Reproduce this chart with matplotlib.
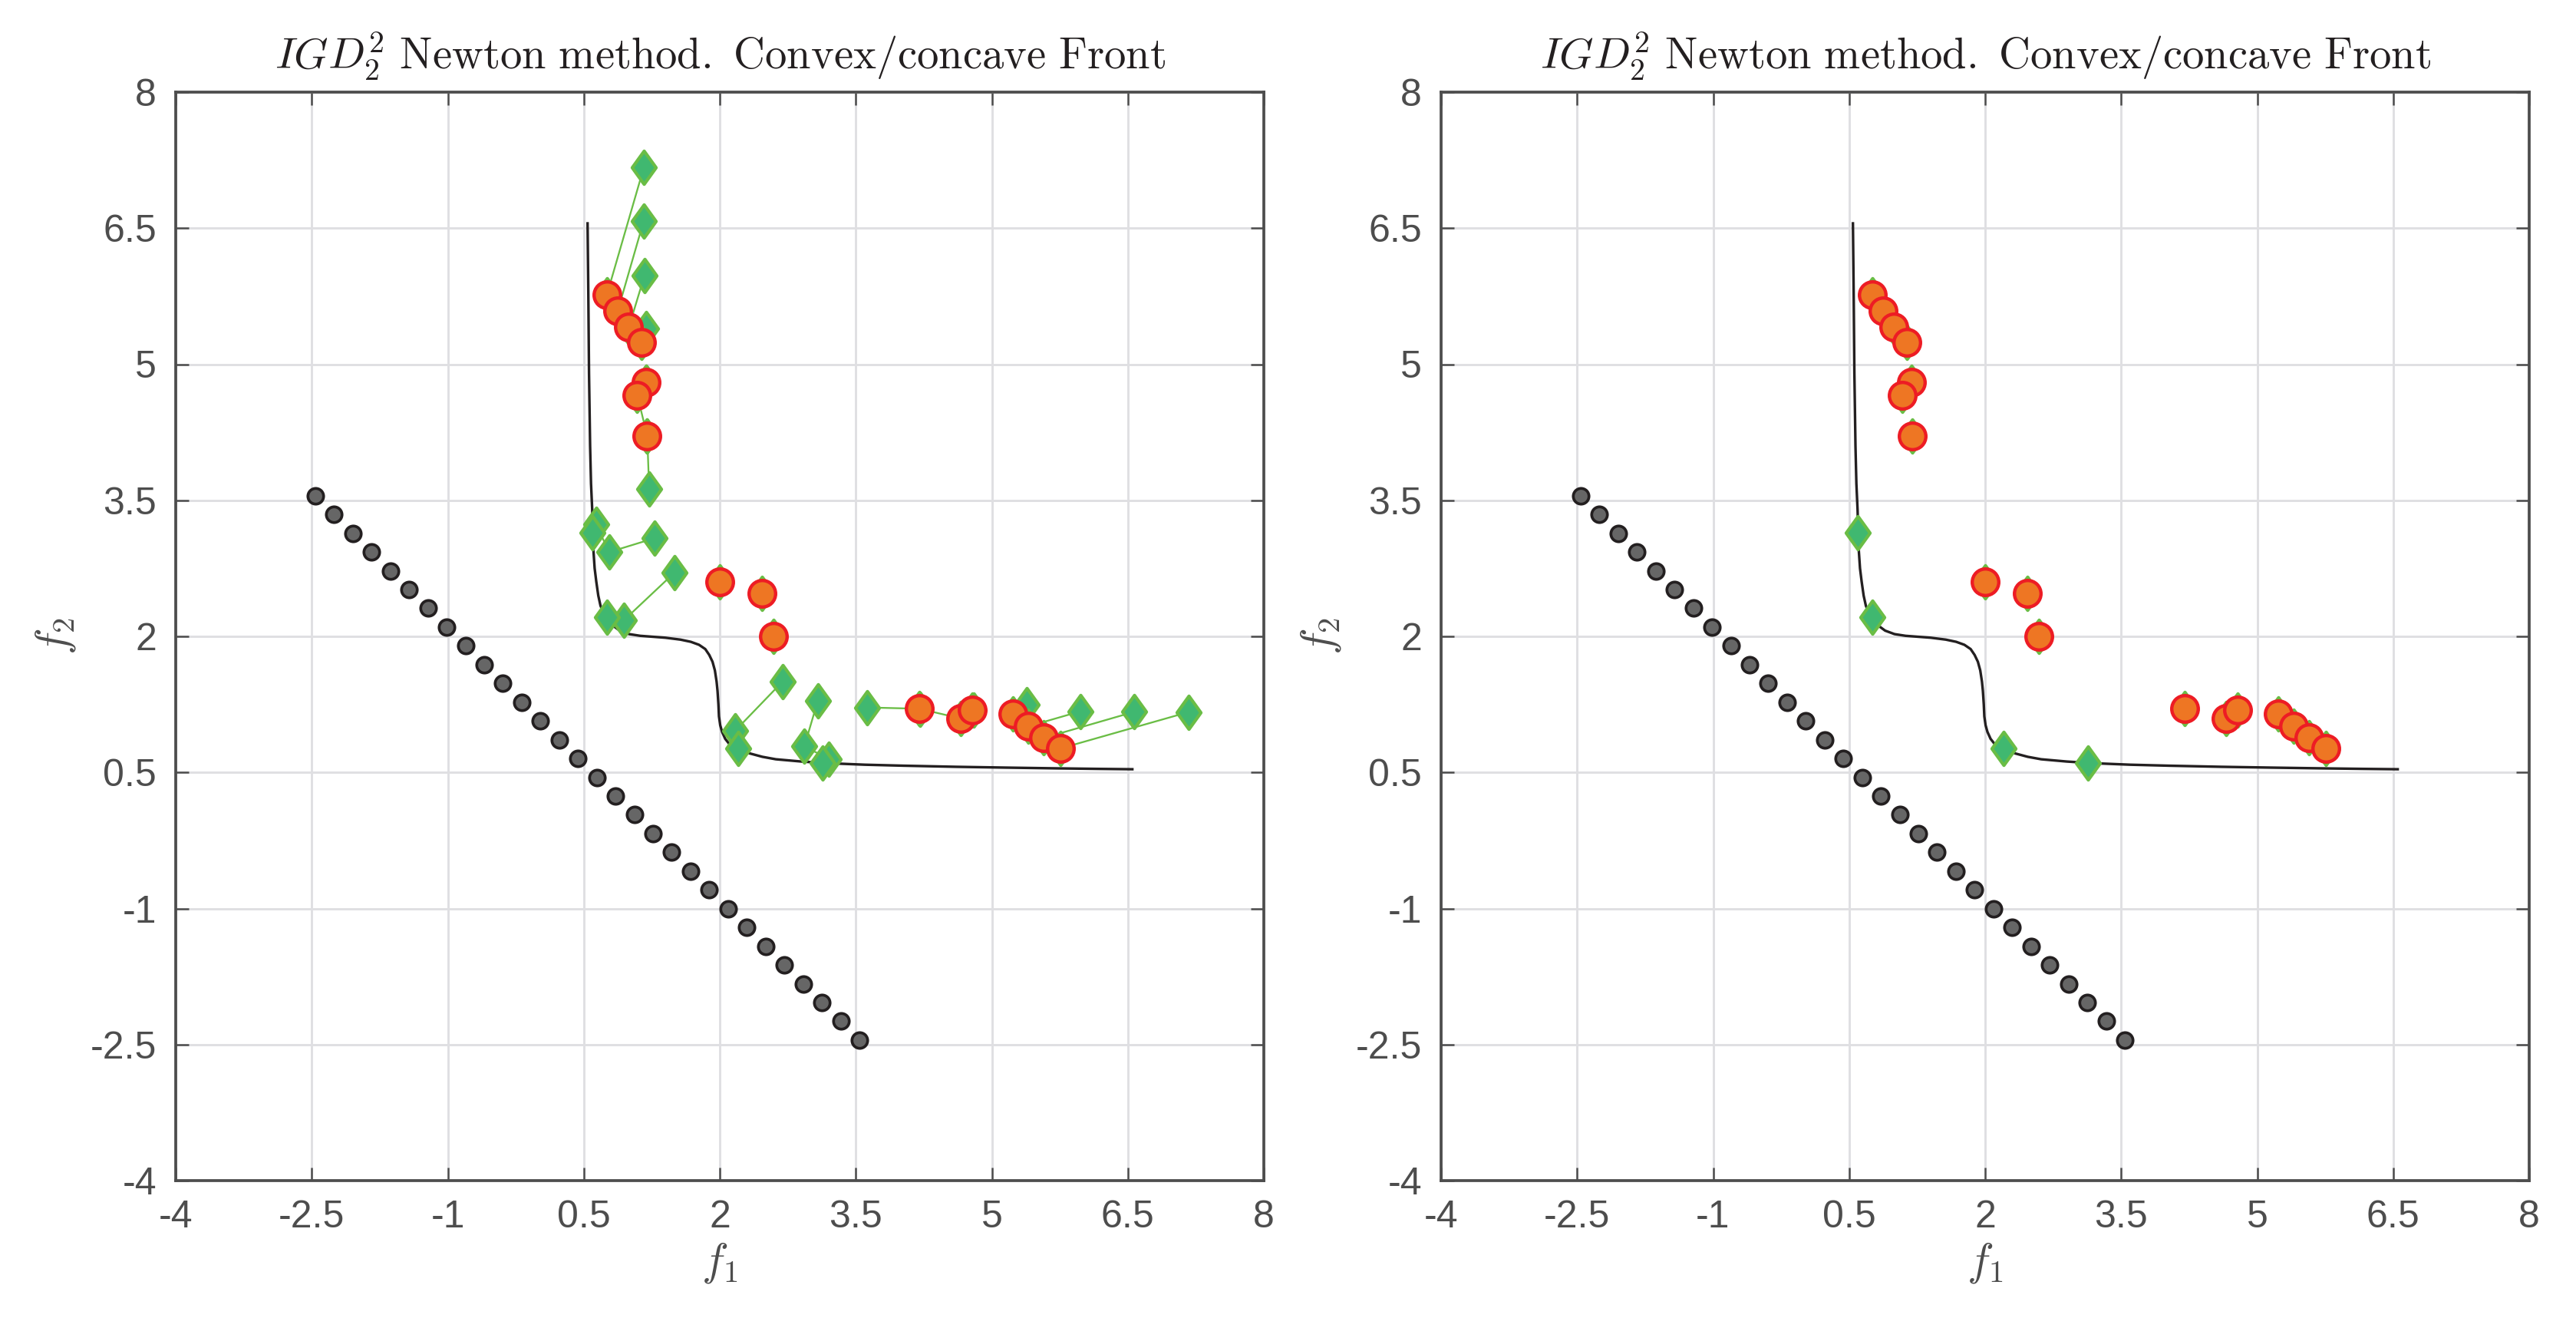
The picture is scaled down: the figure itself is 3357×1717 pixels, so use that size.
import matplotlib
matplotlib.use("Agg")
import matplotlib.pyplot as plt
from matplotlib.path import Path
from matplotlib.markers import MarkerStyle

plt.rcParams['font.family'] = ['Liberation Sans', 'DejaVu Sans']
plt.rcParams['mathtext.fontset'] = 'cm'
plt.rcParams['axes.unicode_minus'] = False

# ---------------- data ----------------
ticks = [-4, -2.5, -1, 0.5, 2, 3.5, 5, 6.5, 8]
tick_labels = ['-4', '-2.5', '-1', '0.5', '2', '3.5', '5', '6.5', '8']

# Pareto front (convex/concave)
front_x = [0.542, 0.550, 0.558, 0.570, 0.580, 0.593, 0.607, 0.620, 0.638, 0.660,
           0.685, 0.730, 0.783, 0.840, 0.897, 1.000, 1.122, 1.400, 1.566, 1.680,
           1.771, 1.840, 1.884, 1.920, 1.946, 1.965, 1.975, 1.985, 1.991, 2.005,
           2.025, 2.060, 2.110, 2.200, 2.336, 2.470, 2.618, 2.900, 3.182, 3.600,
           4.028, 4.600, 5.156, 5.700, 6.172, 6.550]
front_y = [6.553, 5.800, 4.900, 4.100, 3.684, 3.400, 2.942, 2.750, 2.604, 2.450,
           2.336, 2.235, 2.161, 2.105, 2.063, 2.025, 2.006, 1.985, 1.964, 1.940,
           1.907, 1.860, 1.795, 1.720, 1.625, 1.500, 1.400, 1.250, 1.118, 1.020,
           0.948, 0.870, 0.807, 0.750, 0.708, 0.672, 0.645, 0.620, 0.602, 0.585,
           0.574, 0.562, 0.553, 0.545, 0.539, 0.535]

# reference points (black dots)
ref_x = [-2.460, -2.253, -2.046, -1.839, -1.632, -1.426, -1.219, -1.012, -0.805, -0.598,
         -0.391, -0.184, 0.023, 0.230, 0.437, 0.644, 0.851, 1.057, 1.264, 1.471,
         1.678, 1.885, 2.092, 2.299, 2.506, 2.713, 2.920, 3.126, 3.333, 3.540]
ref_y = [3.550, 3.343, 3.136, 2.929, 2.722, 2.516, 2.309, 2.102, 1.895, 1.688,
         1.481, 1.274, 1.067, 0.860, 0.653, 0.446, 0.239, 0.033, -0.174, -0.381,
         -0.588, -0.795, -1.002, -1.209, -1.416, -1.623, -1.830, -2.036, -2.243, -2.450]

# final points drawn as orange circles
final_circ_x = [0.755, 0.874, 0.997, 1.137, 1.189, 1.090, 1.200, 1.997, 2.469, 2.594,
                4.200, 4.655, 4.788, 5.231, 5.400, 5.574, 5.760]
final_circ_y = [5.766, 5.585, 5.408, 5.241, 4.800, 4.660, 4.205, 2.598, 2.470, 1.998,
                1.202, 1.095, 1.190, 1.145, 1.007, 0.880, 0.765]

# final points drawn as green diamonds only
final_diam_x = [0.593, 0.756, 2.205, 3.137]
final_diam_y = [3.140, 2.210, 0.768, 0.600]

# Newton iterate paths (start -> ... -> final), left panel
paths_x = [
    [1.162, 0.755], [1.160, 0.874], [1.170, 0.997], [1.185, 1.137],
    [1.190, 1.189], [1.200, 1.090], [1.221, 1.200],
    [1.997], [2.469], [2.594],
    [3.624, 4.200], [4.210, 4.655], [4.800, 4.788], [5.382, 5.231],
    [5.979, 5.400], [6.571, 5.574], [7.168, 5.760],
    [1.283, 0.781, 0.635, 0.593],
    [1.501, 0.945, 0.756],
    [2.694, 2.172, 2.205],
    [3.080, 2.933, 3.200, 3.137],
]
paths_y = [
    [7.168, 5.766], [6.576, 5.585], [5.978, 5.408], [5.391, 5.241],
    [4.800, 4.800], [4.210, 4.660], [3.628, 4.205],
    [2.598], [2.470], [1.998],
    [1.216, 1.202], [1.200, 1.095], [1.190, 1.190], [1.245, 1.145],
    [1.174, 1.007], [1.168, 0.880], [1.165, 0.765],
    [3.083, 2.929, 3.233, 3.140],
    [2.703, 2.180, 2.210],
    [1.503, 0.962, 0.768],
    [1.287, 0.787, 0.650, 0.600],
]

# ---------------- styles ----------------
C_ORANGE = '#EE7623'
C_RED = '#ED1C24'
C_GFACE = '#40B870'
C_GEDGE = '#6ABD45'
C_DOT = '#666666'
C_DARK = '#231F20'
C_AX = '#4D4D4D'
C_GRID = '#DFDFE2'

diamond = MarkerStyle(Path([(0, 1), (0.72, 0), (0, -1), (-0.72, 0), (0, 1)],
                           [Path.MOVETO, Path.LINETO, Path.LINETO, Path.LINETO, Path.CLOSEPOLY]))

W, H = 3357, 1717
fig = plt.figure(figsize=(W / 300, H / 300), dpi=300)
fig.patch.set_facecolor('white')

axw, axh = 1418 / W, 1418 / H
bottom = 1 - 1538 / H
ax1 = fig.add_axes([229 / W, bottom, axw, axh])
ax2 = fig.add_axes([1878 / W, bottom, axw, axh])

title = r'$IGD_2^2\ \mathrm{Newton\ method.\ Convex/concave\ Front}$'

for ax in (ax1, ax2):
    ax.set_xlim(-4, 8)
    ax.set_ylim(-4, 8)
    ax.set_xticks(ticks)
    ax.set_yticks(ticks)
    ax.set_xticklabels(tick_labels)
    ax.set_yticklabels(tick_labels)
    ax.set_axisbelow(True)
    ax.grid(True, color=C_GRID, linewidth=0.7)
    ax.tick_params(direction='in', length=4, width=0.6, color=C_AX,
                   labelcolor=C_AX, labelsize=12, top=True, right=True, pad=6)
    for s in ax.spines.values():
        s.set_color(C_AX)
        s.set_linewidth(0.9)
    ax.set_title(title, fontsize=13.6, color=C_DARK, pad=7)
    ax.set_xlabel(r'$f_1$', fontsize=14, color=C_AX, labelpad=2)
    ax.set_ylabel(r'$f_2$', fontsize=14, color=C_AX, labelpad=4)

    ax.plot(front_x, front_y, '-', color=C_DARK, linewidth=0.8, zorder=2)
    ax.plot(ref_x, ref_y, 'o', linestyle='none', markersize=4.9, markerfacecolor=C_DOT,
            markeredgecolor=C_DARK, markeredgewidth=0.88, zorder=3)

# left panel: iterate paths
for px, py in zip(paths_x, paths_y):
    ax1.plot(px, py, '-', color=C_GEDGE, linewidth=0.55, marker=diamond, markersize=10.4,
             markerfacecolor=C_GFACE, markeredgecolor=C_GEDGE, markeredgewidth=1.0, zorder=4)
ax1.plot(final_circ_x, final_circ_y, 'o', linestyle='none', markersize=8.3,
         markerfacecolor=C_ORANGE, markeredgecolor=C_RED, markeredgewidth=1.05, zorder=5)

# right panel: final approximation
ax2.plot(final_circ_x + final_diam_x, final_circ_y + final_diam_y, linestyle='none',
         marker=diamond, markersize=10.4, markerfacecolor=C_GFACE, markeredgecolor=C_GEDGE,
         markeredgewidth=1.0, zorder=4)
ax2.plot(final_circ_x, final_circ_y, 'o', linestyle='none', markersize=8.3,
         markerfacecolor=C_ORANGE, markeredgecolor=C_RED, markeredgewidth=1.05, zorder=5)

fig.savefig('out.png', dpi=300, facecolor='white')
